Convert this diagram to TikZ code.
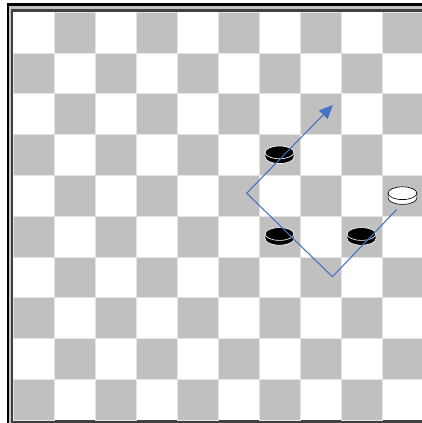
\documentclass[tikz,border=0pt]{standalone}
\usepackage{tikz}
\usetikzlibrary{arrows.meta}
\usepackage{xcolor}
\definecolor{darksq}{RGB}{192,192,192}
\definecolor{gridcol}{RGB}{228,228,228}
\definecolor{framegray}{RGB}{196,196,196}
\definecolor{framedark}{RGB}{64,64,64}
\definecolor{movecol}{RGB}{68,114,196}

\begin{document}
\begin{tikzpicture}[
  x=10.25mm, y=-10.2mm,
  square/.style={fill=darksq, draw=gridcol, line width=0.35pt},
  move/.style={draw=movecol, line width=0.75pt,
               -{Triangle[length=3.4mm, width=3mm]}},
  blackman/.style={fill=black, draw=white, line width=0.45pt},
  whiteman/.style={fill=white, draw=black, line width=0.45pt},
  checker/.pic={
    \path[pic actions] (-3.6mm,0.6mm) -- (-3.6mm,-0.6mm)
      arc[start angle=180, end angle=360, x radius=3.6mm, y radius=1.6mm]
      -- (3.6mm,0.6mm) -- cycle;
    \path[pic actions] (0,0.6mm) ellipse[x radius=3.6mm, y radius=1.6mm];
  }
]

\useasboundingbox (-0.317,-0.294) rectangle (9.976,10.074);

% Frame
\fill[black] (-0.146,-0.213) rectangle (10.5,10.5);
\fill[framegray] (-0.090,-0.147) rectangle (10.5,10.5);
\fill[framedark] (-0.049,-0.074) rectangle (10.5,10.5);

% Board
\fill[white] (0,0) rectangle (10.5,10);
\foreach \r in {0,...,9}
  \foreach \c in {0,...,9} {
    \pgfmathparse{int(mod(\r+\c,2))}
    \ifnum\pgfmathresult=1
      \path[square] (\c,\r) rectangle ++(1,1);
    \fi
  }

% Pieces
\pic[blackman] (bk1) at (6.5,3.5) {checker};
\pic[blackman] (bk2) at (6.5,5.5) {checker};
\pic[blackman] (bk3) at (8.5,5.5) {checker};
\pic[whiteman] (wh1) at (9.5,4.5) {checker};

% Capture path
\coordinate (start) at (9.36,4.84);
\coordinate (turnA) at (7.79,6.49);
\coordinate (turnB) at (5.70,4.44);
\coordinate (tip)   at (7.80,2.28);
\draw[move] (start) -- (turnA) -- (turnB) -- (tip);

\end{tikzpicture}
\end{document}
